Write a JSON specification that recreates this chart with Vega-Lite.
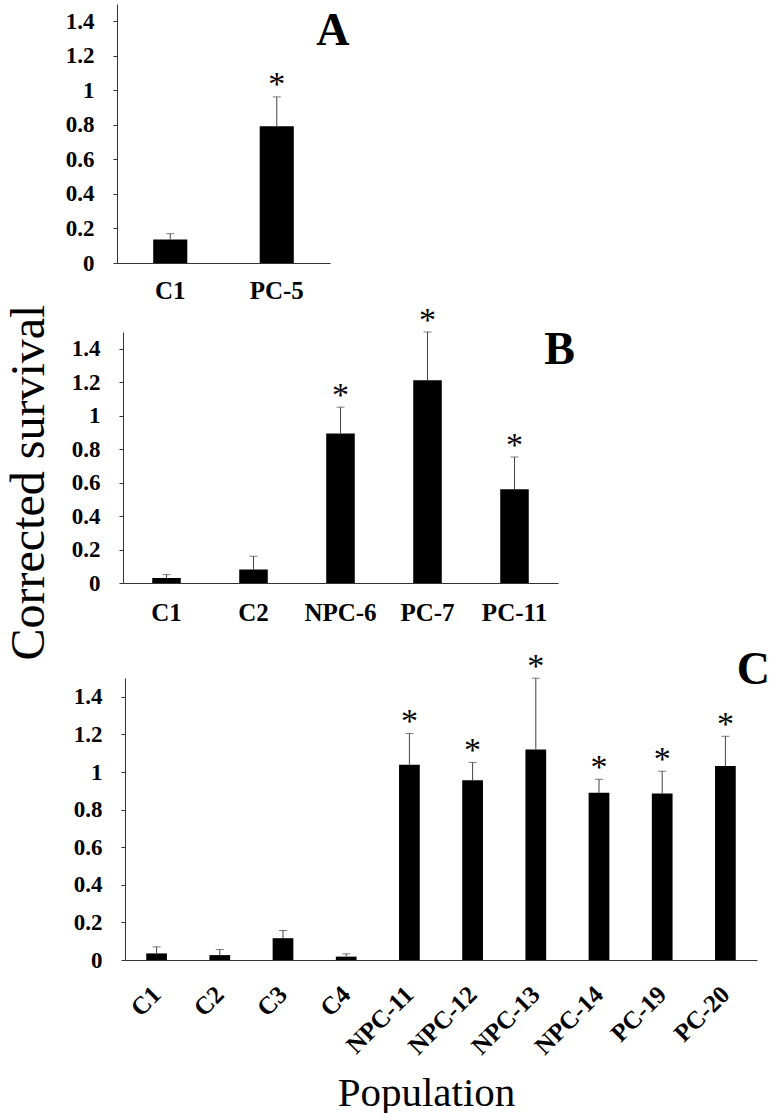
{
  "$schema": "https://vega.github.io/schema/vega-lite/v6.json",
  "padding": {"left": 4, "top": 4, "right": 5, "bottom": 0},
  "background": "white",
  "config": {
    "view": {"stroke": null},
    "font": "Liberation Serif",
    "axis": {"labelFont": "Liberation Serif", "labelFontWeight": "bold", "labelFontSize": 23, "labelColor": "#000", "labelOverlap": false, "domainColor": "#333", "tickColor": "#333", "grid": false, "titleFont": "Liberation Serif", "titleFontWeight": "normal", "titleColor": "#000"},
    "axisX": {"labelFontSize": 25}
  },
  "datasets": {
    "panelA": [
      {"population": "C1", "mean": 0.136, "upper": 0.17, "sig": ""},
      {"population": "PC-5", "mean": 0.792, "upper": 0.962, "sig": "*"}
    ],
    "panelB": [
      {"population": "C1", "mean": 0.03, "upper": 0.05, "sig": ""},
      {"population": "C2", "mean": 0.08, "upper": 0.16, "sig": ""},
      {"population": "NPC-6", "mean": 0.894, "upper": 1.051, "sig": "*"},
      {"population": "PC-7", "mean": 1.211, "upper": 1.5, "sig": "*"},
      {"population": "PC-11", "mean": 0.56, "upper": 0.753, "sig": "*"}
    ],
    "panelC": [
      {"population": "C1", "mean": 0.035, "upper": 0.07, "sig": ""},
      {"population": "C2", "mean": 0.026, "upper": 0.056, "sig": ""},
      {"population": "C3", "mean": 0.116, "upper": 0.157, "sig": ""},
      {"population": "C4", "mean": 0.018, "upper": 0.033, "sig": ""},
      {"population": "NPC-11", "mean": 1.039, "upper": 1.205, "sig": "*"},
      {"population": "NPC-12", "mean": 0.956, "upper": 1.051, "sig": "*"},
      {"population": "NPC-13", "mean": 1.12, "upper": 1.499, "sig": "*"},
      {"population": "NPC-14", "mean": 0.889, "upper": 0.961, "sig": "*"},
      {"population": "PC-19", "mean": 0.885, "upper": 1.004, "sig": "*"},
      {"population": "PC-20", "mean": 1.032, "upper": 1.19, "sig": "*"}
    ]
  },
  "align": "none",
  "spacing": -14,
  "vconcat": [
    {
      "align": "none",
      "spacing": 1,
      "vconcat": [
        {
          "width": 213,
          "height": 259,
          "encoding": {
            "x": {"field": "population", "type": "nominal", "sort": null, "title": null,
                  "scale": {"paddingInner": 0.68, "paddingOuter": 0.34},
                  "axis": {"labelAngle": 0, "ticks": false, "labelPadding": 15}}
          },
          "layer": [
            {"data": {"name": "panelA"}, "mark": {"type": "bar", "color": "#000"},
             "encoding": {"y": {"field": "mean", "type": "quantitative", "title": null,
               "scale": {"domain": [0, 1.5], "nice": false},
               "axis": {"values": [0, 0.2, 0.4, 0.6, 0.8, 1, 1.2, 1.4], "tickCount": 10, "format": "~g", "tickSize": 4, "labelPadding": 19}}}},
            {"data": {"name": "panelA"}, "mark": {"type": "rule", "color": "#444", "strokeWidth": 1},
             "encoding": {"y": {"field": "mean", "type": "quantitative", "title": null}, "y2": {"field": "upper"}}},
            {"data": {"name": "panelA"}, "mark": {"type": "tick", "color": "#444", "thickness": 1, "size": 8},
             "encoding": {"y": {"field": "upper", "type": "quantitative", "title": null}}},
            {"data": {"name": "panelA"}, "mark": {"type": "text", "fontSize": 34, "baseline": "alphabetic", "dy": -2, "color": "#000", "font": "Liberation Serif"},
             "encoding": {"y": {"field": "upper", "type": "quantitative", "title": null}, "text": {"field": "sig"}}},
            {"data": {"values": [{"label": "A"}]}, "mark": {"type": "text", "fontSize": 46, "fontWeight": "bold", "font": "Liberation Serif", "baseline": "alphabetic", "align": "center", "dx": 56, "dy": 24, "color": "#000"},
             "encoding": {"x": {"datum": "PC-5"}, "y": {"datum": 1.4, "type": "quantitative"}, "text": {"field": "label"}}}
          ]
        },
        {
          "width": 441,
          "height": 251,
          "encoding": {
            "x": {"field": "population", "type": "nominal", "sort": null, "title": null,
                  "scale": {"range": [6, 441], "paddingInner": 0.672, "paddingOuter": 0.336},
                  "axis": {"labelAngle": 0, "ticks": false, "labelPadding": 17}}
          },
          "layer": [
            {"data": {"name": "panelB"}, "mark": {"type": "bar", "color": "#000"},
             "encoding": {"y": {"field": "mean", "type": "quantitative", "title": "Corrected survival",
               "scale": {"domain": [0, 1.5], "nice": false},
               "axis": {"values": [0, 0.2, 0.4, 0.6, 0.8, 1, 1.2, 1.4], "tickCount": 10, "format": "~g", "tickSize": 4, "labelPadding": 19, "offset": -6,
                        "titleFontSize": 48, "titleX": -80, "titleY": 150, "titleAngle": 270, "titleBaseline": "alphabetic", "titleAlign": "center"}}}},
            {"data": {"name": "panelB"}, "mark": {"type": "rule", "color": "#444", "strokeWidth": 1},
             "encoding": {"y": {"field": "mean", "type": "quantitative", "title": "Corrected survival"}, "y2": {"field": "upper"}}},
            {"data": {"name": "panelB"}, "mark": {"type": "tick", "color": "#444", "thickness": 1, "size": 8},
             "encoding": {"y": {"field": "upper", "type": "quantitative", "title": "Corrected survival"}}},
            {"data": {"name": "panelB"}, "mark": {"type": "text", "fontSize": 34, "baseline": "alphabetic", "dy": -1, "color": "#000", "font": "Liberation Serif"},
             "encoding": {"y": {"field": "upper", "type": "quantitative", "title": "Corrected survival"}, "text": {"field": "sig"}}},
            {"data": {"values": [{"label": "B"}]}, "mark": {"type": "text", "fontSize": 46, "fontWeight": "bold", "font": "Liberation Serif", "baseline": "alphabetic", "align": "center", "dx": 45, "dy": 15, "color": "#000"},
             "encoding": {"x": {"datum": "PC-11"}, "y": {"datum": 1.4, "type": "quantitative"}, "text": {"field": "label"}}}
          ]
        }
      ]
    },
    {
      "width": 640,
      "height": 282,
      "encoding": {
        "x": {"field": "population", "type": "nominal", "sort": null, "title": "Population",
              "scale": {"range": [8, 640], "paddingInner": 0.672, "paddingOuter": 0.336},
              "axis": {"labelAngle": -45, "labelAlign": "right", "labelBaseline": "middle", "ticks": false, "labelPadding": 30,
                       "titleFontSize": 41, "titleX": 309, "titleY": 145, "titleBaseline": "alphabetic", "titleAlign": "center"}}
      },
      "layer": [
        {"data": {"name": "panelC"}, "mark": {"type": "bar", "color": "#000"},
         "encoding": {"y": {"field": "mean", "type": "quantitative", "title": null,
           "scale": {"domain": [0, 1.5], "nice": false},
           "axis": {"values": [0, 0.2, 0.4, 0.6, 0.8, 1, 1.2, 1.4], "tickCount": 10, "format": "~g", "tickSize": 4, "labelPadding": 19, "offset": -8}}}},
        {"data": {"name": "panelC"}, "mark": {"type": "rule", "color": "#444", "strokeWidth": 1},
         "encoding": {"y": {"field": "mean", "type": "quantitative", "title": null}, "y2": {"field": "upper"}}},
        {"data": {"name": "panelC"}, "mark": {"type": "tick", "color": "#444", "thickness": 1, "size": 8},
         "encoding": {"y": {"field": "upper", "type": "quantitative", "title": null}}},
        {"data": {"name": "panelC"}, "mark": {"type": "text", "fontSize": 34, "baseline": "alphabetic", "dy": -1, "color": "#000", "font": "Liberation Serif"},
         "encoding": {"y": {"field": "upper", "type": "quantitative", "title": null}, "text": {"field": "sig"}}},
        {"data": {"values": [{"label": "C"}]}, "mark": {"type": "text", "fontSize": 46, "fontWeight": "bold", "font": "Liberation Serif", "baseline": "alphabetic", "align": "center", "dx": 28, "dy": -13, "color": "#000"},
         "encoding": {"x": {"datum": "PC-20"}, "y": {"datum": 1.4, "type": "quantitative"}, "text": {"field": "label"}}}
      ]
    }
  ]
}
